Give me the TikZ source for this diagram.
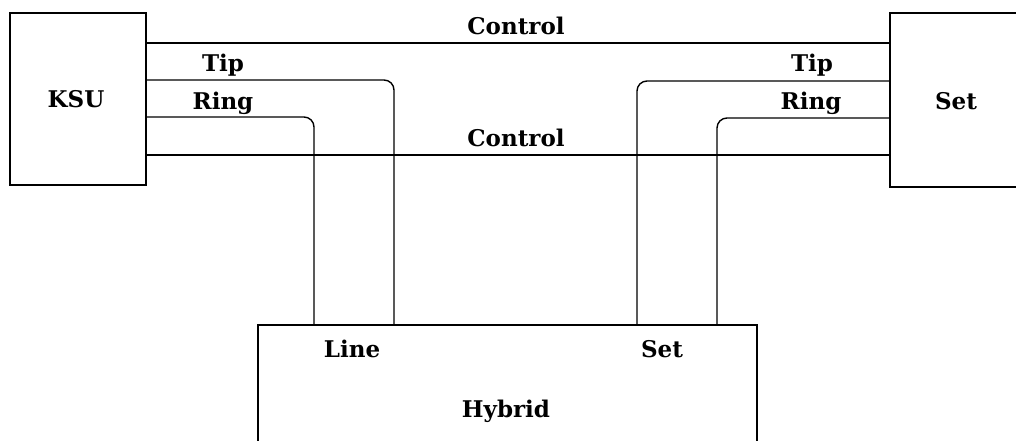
\documentclass[tikz,border=0pt]{standalone}
\usepackage{fontspec}
\setmainfont{DejaVu Serif}
\begin{document}
\begin{tikzpicture}[x=1pt,y=1pt,
  box/.style={draw,line width=1.4pt,inner sep=0pt,outer sep=0pt},
  wire/.style={line width=1.4pt,rounded corners=10pt},
  lbl/.style={anchor=base,inner sep=0pt,font=\fontsize{23}{27}\selectfont\bfseries}]
\useasboundingbox (0,0) rectangle (1016,441);
\clip (0,0) rectangle (1016,441);
% boxes
\node[box,minimum width=136pt,minimum height=172pt] (KSU) at (78,342) {};
\node[box,minimum width=200pt,minimum height=174pt] (SetB) at (990,341) {};
\node[box,minimum width=499pt,minimum height=160pt] (Hyb) at (507.5,36) {};
% wire levels
\coordinate (ctop) at (0,398);
\coordinate (tipL) at (394,361);
\coordinate (ringL) at (314,324);
\coordinate (tipR) at (637,360);
\coordinate (ringR) at (717,323);
\coordinate (cbot) at (0,286);
% wires
\draw[wire] (KSU.east |- ctop) -- (SetB.west |- ctop);
\draw[wire] (KSU.east |- cbot) -- (SetB.west |- cbot);
\draw[wire] (KSU.east |- tipL) -- (tipL) -- (Hyb.north -| tipL);
\draw[wire] (KSU.east |- ringL) -- (ringL) -- (Hyb.north -| ringL);
\draw[wire] (SetB.west |- tipR) -- (tipR) -- (Hyb.north -| tipR);
\draw[wire] (SetB.west |- ringR) -- (ringR) -- (Hyb.north -| ringR);
% labels
\node[lbl] (lct) at (516,406) {Control};
\node[lbl] (lcb) at (516,294) {Control};
\node[lbl] (ltl) at (223,369) {Tip};
\node[lbl] (lrl) at (223,331) {Ring};
\node[lbl] (ltr) at (812,369) {Tip};
\node[lbl] (lrr) at (811,331) {Ring};
\node[lbl] (lksu) at (76,333) {KSU};
\node[lbl] (lset) at (956,331) {Set};
\node[lbl] (lline) at (352,83) {Line};
\node[lbl] (lhset) at (662,83) {Set};
\node[lbl] (lhyb) at (506,23) {Hybrid};
\end{tikzpicture}
\end{document}
